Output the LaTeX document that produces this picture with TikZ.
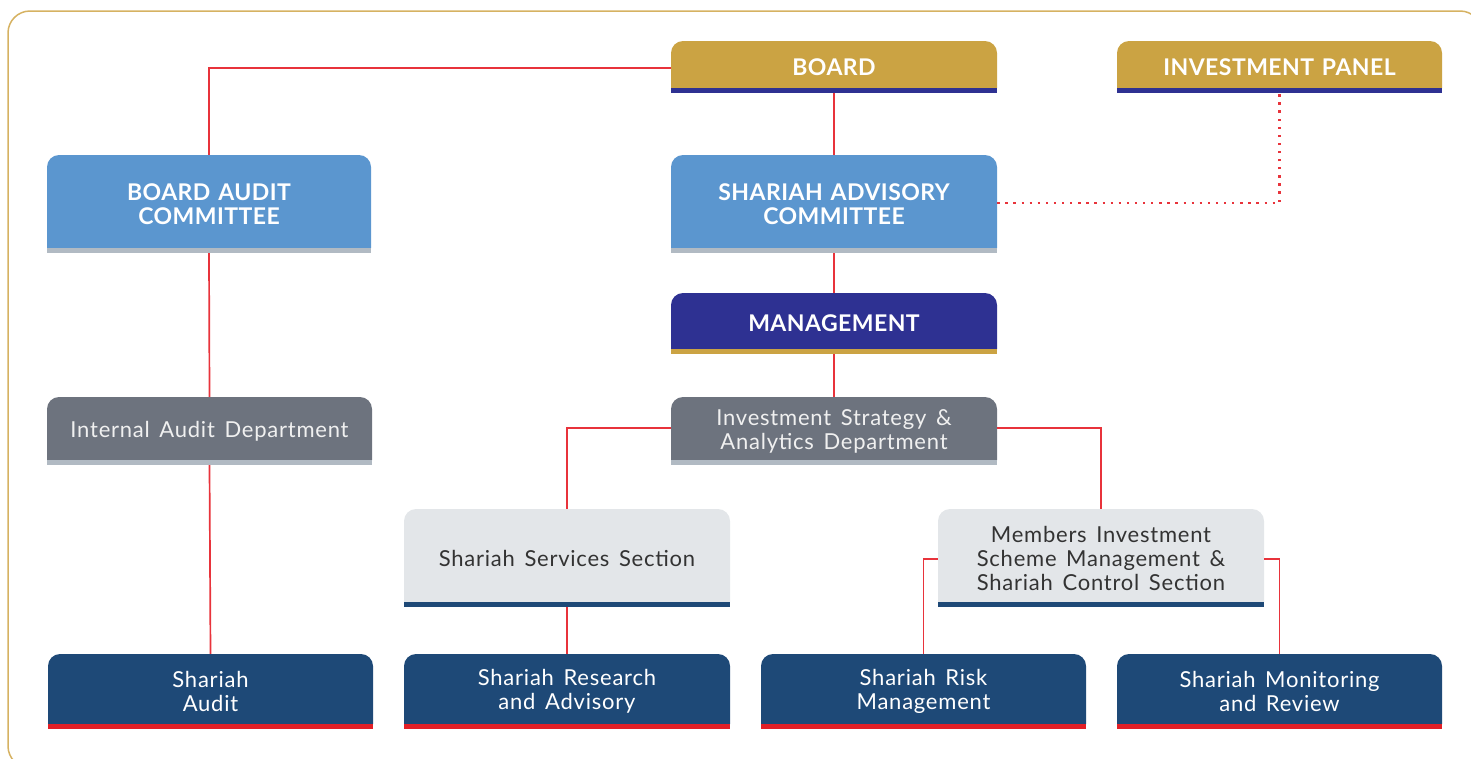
\documentclass[tikz,border=0pt]{standalone}
\usepackage{fontspec}
\setmainfont{Lato}
\newfontfamily\regfont{Lato}[LetterSpace=3.5,WordSpace=1.5]
\newfontfamily\titlefont{Lato}[LetterSpace=2,WordSpace=1.3]
\definecolor{gold}{HTML}{CBA343}
\definecolor{navybar}{HTML}{2E3192}
\definecolor{lblue}{HTML}{5B96CF}
\definecolor{greybar}{HTML}{B1BAC3}
\definecolor{dgrey}{HTML}{6D737E}
\definecolor{lgrey}{HTML}{E3E6E9}
\definecolor{dblue}{HTML}{1E4977}
\definecolor{redbar}{HTML}{E21F26}
\definecolor{conred}{HTML}{E8333B}
\definecolor{framegold}{HTML}{D6B262}
\definecolor{dtext}{HTML}{333333}
\tikzset{
  titletext/.style={text=white,font=\titlefont\fontsize{23}{24}\selectfont\bfseries,align=center},
  greytext/.style={text=white!94!black,font=\regfont\fontsize{22}{24}\selectfont,align=center},
  darktext/.style={text=dtext,font=\regfont\fontsize{22}{24}\selectfont,align=center},
  whitetext/.style={text=white,font=\regfont\fontsize{22}{24}\selectfont,align=center},
  conn/.style={draw=conred,line width=1.7pt},
  dotconn/.style={draw=conred,line width=2.3pt,dash pattern=on 2.3pt off 5.8pt},
}
% name, x1, y1, x2, y2 (body bottom), body colour, bar colour, text style, text
\newcommand{\obox}[9]{%
  \fill[#6] (#2,#5) [rounded corners=12pt] -- (#2,#3) -- (#4,#3) [sharp corners] -- (#4,#5) -- cycle;
  \fill[#7] (#2,#5) rectangle (#4,#5+5);
  \node[#8,inner sep=0pt,minimum width={(#4-#2)*1pt},minimum height={(#5+5-#3)*1pt}] (#1) at ({(#2+#4)/2},{(#3+#5+5)/2}) {#9};
}
\begin{document}
\begin{tikzpicture}[x=1pt,y=-1pt]
\useasboundingbox (0,0) rectangle (1471,758);
\begin{scope}
\clip (0,0) rectangle (1471,758);
\draw[framegold,line width=1.5pt,rounded corners=22pt] (8,11) rectangle (1482,768);
\end{scope}

\obox{board}{671}{41}{997}{88}{gold}{navybar}{titletext}{BOARD}
\obox{panel}{1117}{41}{1442}{88}{gold}{navybar}{titletext}{INVESTMENT PANEL}
\obox{bac}{47}{155}{371}{248}{lblue}{greybar}{titletext}{BOARD AUDIT\\COMMITTEE}
\obox{sac}{671}{155}{997}{248}{lblue}{greybar}{titletext}{SHARIAH ADVISORY\\COMMITTEE}
\obox{mgmt}{671}{293}{997}{349}{navybar}{gold}{titletext}{MANAGEMENT}
\obox{iad}{47}{397}{372}{460}{dgrey}{greybar}{greytext}{Internal Audit Department}
\obox{isad}{671}{397}{997}{460}{dgrey}{greybar}{greytext}{Investment Strategy \&\\Analytics Department}
\obox{sss}{404}{509}{730}{602}{lgrey}{dblue}{darktext}{Shariah Services Section}
\obox{mism}{938}{509}{1264}{602}{lgrey}{dblue}{darktext}{Members Investment\\Scheme Management \&\\Shariah Control Section}
\obox{sa}{48}{654}{373}{724}{dblue}{redbar}{whitetext}{Shariah\\Audit}
\obox{sra}{404}{654}{730}{724}{dblue}{redbar}{whitetext}{Shariah Research\\and Advisory}
\obox{srm}{761}{654}{1086}{724}{dblue}{redbar}{whitetext}{Shariah Risk\\Management}
\obox{smr}{1117}{654}{1442}{724}{dblue}{redbar}{whitetext}{Shariah Monitoring\\and Review}

\path[conn] (board.west |- 0,68) -| (bac.north);
\path[conn] (board.south) -- (sac.north);
\path[conn] (sac.south) -- (mgmt.north);
\path[conn] (mgmt.south) -- (isad.north);
\path[conn] (bac.south) -- (iad.north);
\path[conn] (iad.south) -- (sa.north);
\path[conn] (isad.west |- 0,428) -| (sss.north);
\path[conn] (isad.east |- 0,428) -| (mism.north);
\path[conn] (sss.south) -- (sra.north);
\path[conn] (mism.west |- 0,559) -| (srm.north);
\path[conn] (mism.east |- 0,559) -| (smr.north);
\path[dotconn] (sac.east |- 0,203) -| (panel.south);
\end{tikzpicture}
\end{document}
